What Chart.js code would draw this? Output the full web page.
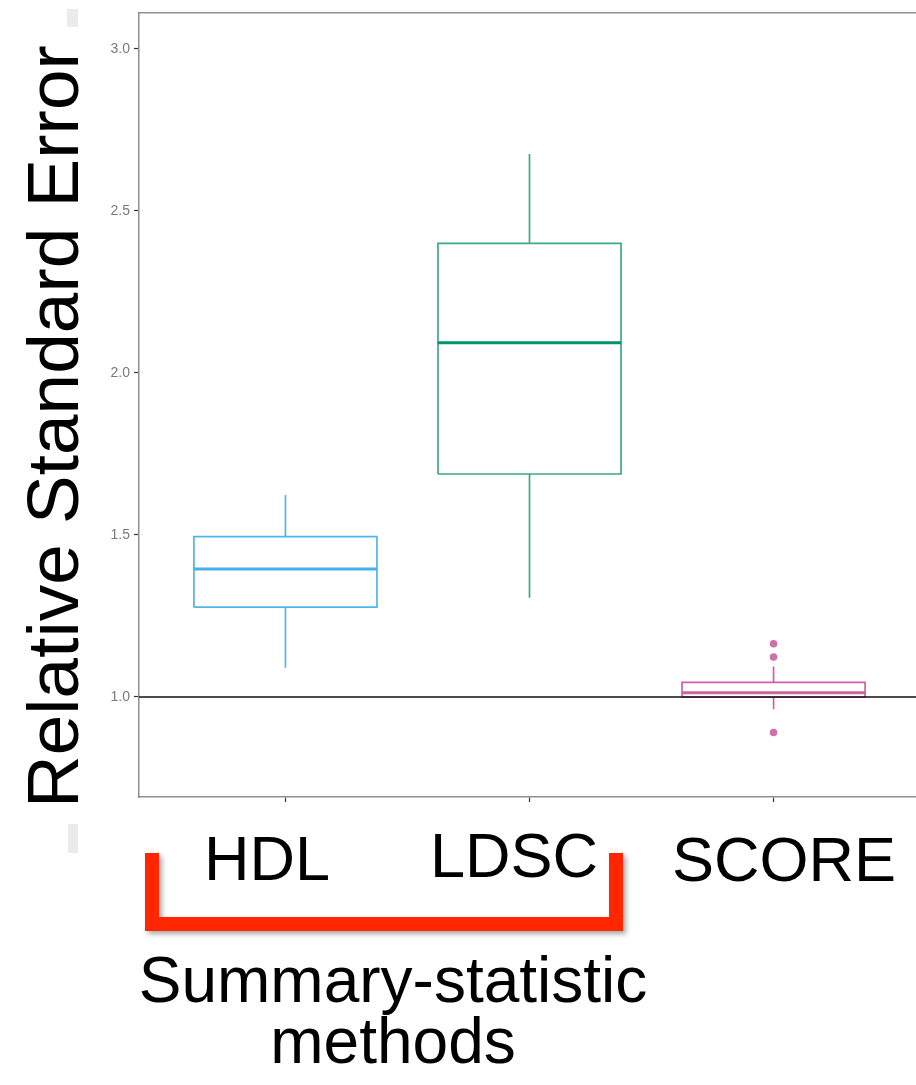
<!DOCTYPE html>
<html>
<head>
<meta charset="utf-8">
<script src="https://cdn.jsdelivr.net/npm/chart.js@4.4.1/dist/chart.umd.min.js"></script>
<style>
  html, body { margin: 0; padding: 0; background: #fff; overflow: hidden; width: 916px; height: 1085px; }
  #wrap { position: absolute; left: 0; top: 0; width: 930px; height: 1085px; }
</style>
</head>
<body>
<div id="wrap"><canvas id="c" width="930" height="1085"></canvas></div>
<script>
// Box-plot summaries per method
const categories  = ['HDL', 'LDSC', 'SCORE'];
const whiskerLow  = [1.090, 1.306, 0.962];
const quartile1   = [1.277, 1.688, 0.999];
const medians     = [1.395, 2.093, 1.013];
const quartile3   = [1.495, 2.400, 1.045];
const whiskerHigh = [1.623, 2.676, 1.094];
const outliers    = [[], [], [1.164, 1.123, 0.890]];
const yTicks      = [1.0, 1.5, 2.0, 2.5, 3.0];
const referenceValue = 1.0;

// Styling
const lineColors   = ['#4FB5EC', '#3DAA7F', '#D35FAA'];
const medianColors = ['#45B0EA', '#00936A', '#C9659F'];
const pointColors  = ['#56B4E9', '#009E73', '#D070AA'];
const HALF_BOX = 0.375;
const LABEL_FONT = 'Liberation Sans';

const datasets = [];
datasets.push({
  label: 'reference',
  data: [{ x: 0.4, y: referenceValue }, { x: 3.6, y: referenceValue }],
  showLine: true, borderColor: '#111', borderWidth: 1.5, pointRadius: 0, order: -1
});
categories.forEach((cat, i) => {
  const c = i + 1;
  datasets.push({
    label: cat + ' box',
    data: [
      { x: c - HALF_BOX, y: quartile1[i] }, { x: c + HALF_BOX, y: quartile1[i] },
      { x: c + HALF_BOX, y: quartile3[i] }, { x: c - HALF_BOX, y: quartile3[i] },
      { x: c - HALF_BOX, y: quartile1[i] }
    ],
    showLine: true, borderColor: lineColors[i], borderWidth: 1.7, pointRadius: 0,
    borderJoinStyle: 'miter', order: 2
  });
  datasets.push({
    label: cat + ' median',
    data: [{ x: c - HALF_BOX, y: medians[i] }, { x: c + HALF_BOX, y: medians[i] }],
    showLine: true, borderColor: medianColors[i], borderWidth: 3, pointRadius: 0, order: 1
  });
  datasets.push({
    label: cat + ' upper whisker',
    data: [{ x: c, y: quartile3[i] }, { x: c, y: whiskerHigh[i] }],
    showLine: true, borderColor: lineColors[i], borderWidth: 1.7, pointRadius: 0, order: 2
  });
  datasets.push({
    label: cat + ' lower whisker',
    data: [{ x: c, y: quartile1[i] }, { x: c, y: whiskerLow[i] }],
    showLine: true, borderColor: lineColors[i], borderWidth: 1.7, pointRadius: 0, order: 2
  });
  if (outliers[i].length) {
    datasets.push({
      label: cat + ' outliers',
      data: outliers[i].map(v => ({ x: c, y: v })),
      showLine: false, pointRadius: 3.8, pointBorderWidth: 0,
      backgroundColor: pointColors[i], borderColor: pointColors[i], order: 1
    });
  }
});

// Text and bracket drawn around the plot
const annotations = {
  id: 'annotations',
  afterDraw(chart) {
    const ctx = chart.ctx;
    ctx.save();
    ctx.fillStyle = '#ebebeb';
    ctx.fillRect(67, 9, 11, 18);
    ctx.fillRect(68, 824, 10, 29);

    ctx.fillStyle = '#000';
    ctx.textBaseline = 'alphabetic';

    // vertical axis title
    ctx.save();
    ctx.translate(78, 808);
    ctx.rotate(-Math.PI / 2);
    ctx.font = '73px "' + LABEL_FONT + '"';
    ctx.textAlign = 'left';
    ctx.fillText('Relative Standard Error', 0, 0);
    ctx.restore();

    // method names
    ctx.font = '63px "' + LABEL_FONT + '"';
    ctx.textAlign = 'center';
    const nameX = [267, 514, 784];
    const nameY = [880, 877, 881];
    categories.forEach((cat, i) => ctx.fillText(cat, nameX[i], nameY[i]));

    ctx.font = '64px "' + LABEL_FONT + '"';
    ctx.fillText('Summary-statistic', 393, 1002);
    ctx.fillText('methods', 393, 1063);

    // bracket grouping the summary-statistic methods
    ctx.save();
    ctx.shadowColor = 'rgba(0,0,0,0.35)';
    ctx.shadowBlur = 5;
    ctx.shadowOffsetX = 3;
    ctx.shadowOffsetY = 3;
    ctx.strokeStyle = '#FF2600';
    ctx.lineWidth = 14;
    ctx.lineJoin = 'miter';
    ctx.lineCap = 'butt';
    ctx.beginPath();
    ctx.moveTo(152, 853);
    ctx.lineTo(152, 924);
    ctx.lineTo(616, 924);
    ctx.lineTo(616, 853);
    ctx.stroke();
    ctx.restore();

    ctx.restore();
  }
};

new Chart(document.getElementById('c'), {
  type: 'scatter',
  data: { datasets },
  options: {
    responsive: false,
    animation: false,
    devicePixelRatio: 1,
    layout: { padding: { left: 0, right: 10, top: 13, bottom: 0 } },
    plugins: { legend: { display: false }, tooltip: { enabled: false } },
    scales: {
      x: {
        type: 'linear', position: 'bottom', min: 0.4, max: 3.6,
        afterBuildTicks: s => { s.ticks = categories.map((_, i) => ({ value: i + 1 })); },
        afterFit: s => { s.height = 288; },
        ticks: { display: false },
        grid: { drawOnChartArea: false, drawTicks: true, tickLength: 5, tickColor: '#333', tickWidth: 1.2 },
        border: { display: true, color: '#8f8f8f', width: 1.5 }
      },
      xTop: {
        type: 'linear', position: 'top', min: 0.4, max: 3.6,
        afterFit: s => { s.height = 0; },
        ticks: { display: false },
        grid: { display: false, drawTicks: false },
        border: { display: true, color: '#8f8f8f', width: 1.5 }
      },
      y: {
        type: 'linear', min: 0.691, max: 3.111,
        afterBuildTicks: s => { s.ticks = yTicks.map(v => ({ value: v })); },
        afterFit: s => { s.width = 139; },
        ticks: {
          callback: v => Number(v).toFixed(1),
          color: '#7a7a7a', padding: 4,
          font: { family: 'Liberation Sans', size: 14 }
        },
        grid: { drawOnChartArea: false, drawTicks: true, tickLength: 5, tickColor: '#333', tickWidth: 1.2 },
        border: { display: true, color: '#8f8f8f', width: 1.5 }
      }
    }
  },
  plugins: [annotations]
});
</script>
</body>
</html>
